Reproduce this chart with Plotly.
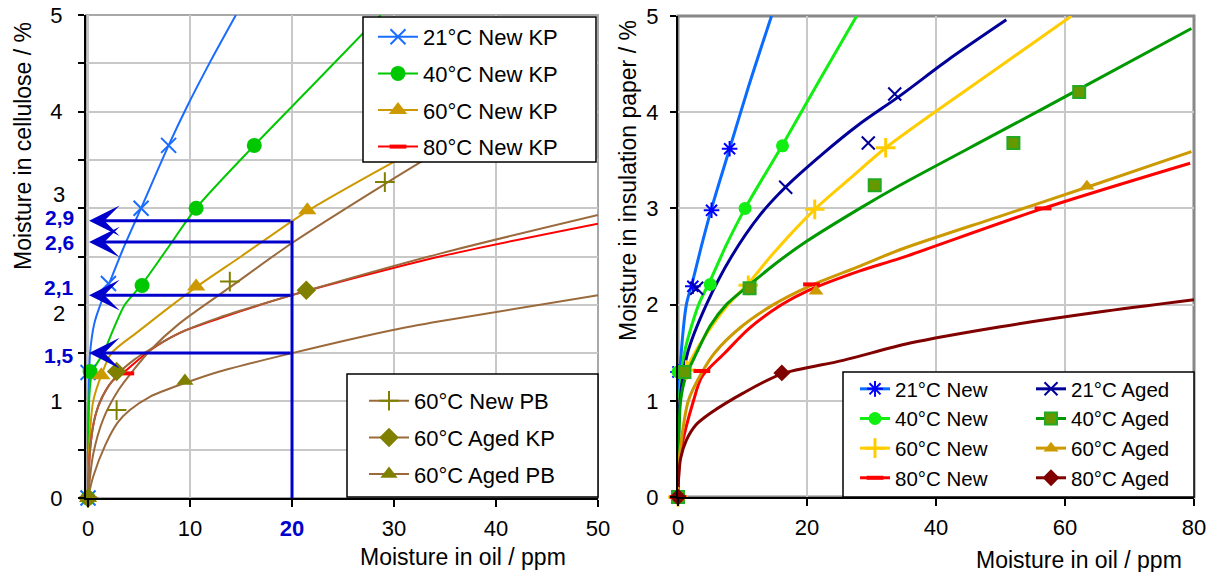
import plotly.graph_objects as go

W, H = 1214, 572
FONT = "Liberation Sans, Arial, sans-serif"

# ================= LEFT PANEL DATA (moisture in oil ppm -> moisture in cellulose %) =================
# fitted curves
L21_CX = [0, 0.01, 0.05, 0.2, 0.6, 1.2, 2.0, 3.4, 5.2, 7.9, 9.7, 12.0, 14.5]
L21_CY = [0, 0.5, 1.0, 1.5, 1.8, 2.0, 2.2, 2.57, 3.0, 3.65, 4.05, 4.52, 5.0]
L40_CX = [0, 0.02, 0.1, 0.4, 1.5, 2.5, 3.6, 5.2, 7.7, 10.6, 16.3, 22.0, 28.7]
L40_CY = [0, 0.5, 1.0, 1.3, 1.5, 1.75, 2.0, 2.2, 2.57, 3.0, 3.65, 4.27, 5.0]
L60KP_CX = [0, 0.1, 0.5, 1.3, 2.3, 5.0, 8.4, 10.7, 15.0, 21.5, 29.8, 38.0]
L60KP_CY = [0, 0.5, 1.0, 1.27, 1.5, 1.73, 2.01, 2.19, 2.5, 2.97, 3.47, 3.95]
L80KP_CX = [0, 0.2, 0.6, 1.2, 2.3, 3.7, 6.1, 9.0, 12.9, 20.0, 34.5, 50.0]
L80KP_CY = [0, 0.5, 0.8, 1.0, 1.2, 1.32, 1.53, 1.71, 1.86, 2.1, 2.5, 2.84]
LNPB_CX = [0, 0.5, 1.5, 3.0, 4.5, 6.1, 9.0, 13.9, 20.0, 29.1, 40.0]
LNPB_CY = [0, 0.45, 0.82, 1.12, 1.33, 1.53, 1.81, 2.18, 2.64, 3.25, 3.95]
LAKP_CX = [0, 0.2, 0.7, 1.4, 2.8, 4.5, 6.1, 9.0, 12.9, 20.0, 34.5, 50.0]
LAKP_CY = [0, 0.5, 0.85, 1.05, 1.27, 1.43, 1.54, 1.71, 1.87, 2.1, 2.53, 2.93]
LAPB_CX = [0, 0.5, 1.7, 2.9, 4.1, 6.1, 9.5, 12.9, 20.0, 29.9, 34.5, 50.0]
LAPB_CY = [0, 0.22, 0.55, 0.78, 0.91, 1.05, 1.19, 1.31, 1.5, 1.74, 1.83, 2.1]
# measured points
L21_MX = [0, 0, 2.0, 5.2, 7.9]
L21_MY = [0, 1.3, 2.22, 3.0, 3.65]
L40_MX = [0, 0.2, 5.3, 10.6, 16.3]
L40_MY = [0, 1.31, 2.2, 3.0, 3.65]
L60KP_MX = [0, 1.3, 10.6, 21.5]
L60KP_MY = [0, 1.27, 2.19, 2.98]
L80KP_MX = [0, 3.7]
L80KP_MY = [0, 1.29]
LNPB_MX = [0, 2.8, 13.9, 29.1]
LNPB_MY = [0, 0.91, 2.24, 3.27]
LAKP_MX = [0, 2.8, 21.4]
LAKP_MY = [0, 1.31, 2.15]
LAPB_MX = [0, 9.5]
LAPB_MY = [0, 1.21]
# read-off example at 20 ppm
READ_X = 20
READ_Y = [2.87, 2.65, 2.1, 1.5]
READ_LABELS = ["2,9", "2,6", "2,1", "1,5"]
READ_LABEL_PY = [217, 243, 287, 355]   # label centres (px) as placed in the original

L_XTICKS = [0, 10, 20, 30, 40, 50]
L_XTEXT = ["0", "10", "<span style='color:#0000cc'><b>20</b></span>", "30", "40", "50"]
L_YTICKS = [0, 0.5, 1, 1.5, 2, 2.5, 3, 3.5, 4, 4.5, 5]
L_YTEXT = ["0", "", "1", "", "", "", "", "", "4", "", "5"]
L_YNUDGED = ["2", "3"]          # labels drawn slightly off their gridline in the original

# ================= RIGHT PANEL DATA =================
R21N_CX = [0, 0.02, 0.1, 0.5, 1.3, 2.3, 3.6, 5.2, 8.0, 11.0, 14.5]
R21N_CY = [0, 0.5, 1.0, 1.5, 2.0, 2.25, 2.6, 3.0, 3.62, 4.28, 5.0]
R40N_CX = [0, 0.05, 0.2, 1.0, 3.2, 5.0, 7.5, 10.4, 16.2, 22.0, 27.7]
R40N_CY = [0, 0.5, 1.0, 1.5, 2.0, 2.25, 2.62, 3.0, 3.66, 4.34, 5.0]
R21A_CX = [0, 0.05, 0.3, 1.5, 4.4, 8.3, 12.7, 16.8, 22.3, 28.0, 34.4, 42.0, 50.9]
R21A_CY = [0, 0.5, 1.0, 1.5, 2.0, 2.5, 2.93, 3.23, 3.56, 3.87, 4.17, 4.55, 4.96]
R40A_CX = [0, 0.1, 0.4, 1.2, 2.9, 5.0, 7.5, 11.0, 15.0, 20.0, 28.2, 34.4, 50.0, 62.2, 79.6]
R40A_CY = [0, 0.5, 1.0, 1.25, 1.5, 1.78, 2.0, 2.2, 2.42, 2.66, 3.0, 3.24, 3.8, 4.24, 4.87]
R60N_CX = [0, 0.05, 0.3, 1.3, 3.5, 7.8, 10.9, 15.0, 21.2, 27.0, 32.2, 40.0, 50.0, 61.0]
R60N_CY = [0, 0.5, 1.0, 1.32, 1.6, 2.0, 2.22, 2.55, 2.99, 3.33, 3.63, 4.01, 4.48, 5.0]
R60A_CX = [0, 0.1, 0.35, 1.6, 3.5, 5.7, 10.0, 14.8, 20.0, 28.2, 34.4, 50.0, 63.4, 79.6]
R60A_CY = [0, 0.3, 0.5, 1.0, 1.27, 1.5, 1.78, 2.0, 2.18, 2.4, 2.57, 2.92, 3.22, 3.59]
R80N_CX = [0, 0.15, 0.5, 2.4, 3.7, 7.3, 11.0, 16.1, 20.0, 28.2, 34.4, 56.6, 79.4]
R80N_CY = [0, 0.3, 0.5, 1.0, 1.25, 1.5, 1.75, 2.0, 2.14, 2.35, 2.48, 3.0, 3.47]
R80A_CX = [0, 0.1, 0.4, 1.3, 2.8, 5.0, 10.1, 16.1, 25.6, 36.0, 50.0, 65.0, 80.0]
R80A_CY = [0, 0.2, 0.4, 0.59, 0.75, 0.87, 1.08, 1.28, 1.42, 1.6, 1.77, 1.92, 2.05]

R21N_MX = [0, 0, 2.3, 5.2, 8.0]
R21N_MY = [0, 1.3, 2.19, 2.98, 3.62]
R21A_MX = [0, 2.9, 16.7, 29.5, 33.6]
R21A_MY = [0, 2.17, 3.22, 3.68, 4.19]
R40N_MX = [0, 0, 5.0, 10.4, 16.2]
R40N_MY = [0, 1.3, 2.21, 3.0, 3.65]
R40A_MX = [0, 1.0, 11.1, 30.5, 52.0, 62.2]
R40A_MY = [0, 1.3, 2.17, 3.24, 3.68, 4.21]
R60N_MX = [0, 1.3, 10.9, 21.2, 32.2]
R60N_MY = [0, 1.32, 2.2, 2.99, 3.63]
R60A_MX = [0, 21.4, 63.4]
R60A_MY = [0, 2.14, 3.23]
R80N_MX = [0, 3.7, 20.7, 56.6]
R80N_MY = [0, 1.31, 2.21, 3.0]
R80A_MX = [0, 16.1]
R80A_MY = [0, 1.29]

R_XTICKS = [0, 20, 40, 60, 80]
R_YTICKS = [0, 1, 2, 3, 4, 5]

# ================= FIGURE =================
fig = go.Figure()
curves, markers, legends = [], [], []


def series(ax, ay, cx, cy, mx, my, lcolor, lw, mk, name, legend):
    curves.append(go.Scatter(x=cx, y=cy, mode="lines", xaxis=ax, yaxis=ay,
                             line=dict(color=lcolor, width=lw, shape="spline", smoothing=0.8),
                             showlegend=False, hoverinfo="skip"))
    markers.append(go.Scatter(x=mx, y=my, mode="markers", xaxis=ax, yaxis=ay, marker=mk,
                              showlegend=False, cliponaxis=False, name=name))
    legends.append(go.Scatter(x=[None], y=[None], mode="lines+markers", xaxis=ax, yaxis=ay,
                              line=dict(color=lcolor, width=lw), marker=mk,
                              name=name, legend=legend, legendgroup=name, showlegend=True))


def open_mk(symbol, size, color, width):
    return dict(symbol=symbol, size=size, color=color, line=dict(color=color, width=width))


BROWN = "#9b6a3c"
OLIVE = "#808000"
# left panel
series("x", "y", L21_CX, L21_CY, L21_MX, L21_MY, "#1a6cff", 2,
       open_mk("x-thin-open", 15, "#1a6cff", 2), "21°C New KP", "legend")
series("x", "y", L40_CX, L40_CY, L40_MX, L40_MY, "#00c800", 2,
       dict(symbol="circle", size=15, color="#00c800"), "40°C New KP", "legend")
series("x", "y", L60KP_CX, L60KP_CY, L60KP_MX, L60KP_MY, "#cc9900", 2,
       dict(symbol="triangle-up", size=16, color="#cc9900"), "60°C New KP", "legend")
series("x", "y", L80KP_CX, L80KP_CY, L80KP_MX, L80KP_MY, "#ff0000", 2,
       open_mk("line-ew-open", 12, "#ff0000", 4), "80°C New KP", "legend")
series("x", "y", LNPB_CX, LNPB_CY, LNPB_MX, LNPB_MY, BROWN, 2,
       open_mk("cross-thin-open", 14, OLIVE, 2), "60°C New PB", "legend2")
series("x", "y", LAKP_CX, LAKP_CY, LAKP_MX, LAKP_MY, BROWN, 2,
       dict(symbol="diamond", size=15, color=OLIVE), "60°C Aged KP", "legend2")
series("x", "y", LAPB_CX, LAPB_CY, LAPB_MX, LAPB_MY, BROWN, 2,
       dict(symbol="triangle-up", size=15, color=OLIVE), "60°C Aged PB", "legend2")

# right panel
series("x2", "y2", R21N_CX, R21N_CY, R21N_MX, R21N_MY, "#0a6cff", 3,
       open_mk("asterisk-open", 13, "#0000ff", 2), "21°C New", "legend3")
series("x2", "y2", R40N_CX, R40N_CY, R40N_MX, R40N_MY, "#11ee11", 3,
       dict(symbol="circle", size=13, color="#11ee11"), "40°C New", "legend3")
series("x2", "y2", R60N_CX, R60N_CY, R60N_MX, R60N_MY, "#ffcc00", 3,
       open_mk("cross-thin-open", 14, "#ffcc00", 3), "60°C New", "legend3")
series("x2", "y2", R80N_CX, R80N_CY, R80N_MX, R80N_MY, "#ff0000", 3,
       open_mk("line-ew-open", 12, "#ff0000", 4), "80°C New", "legend3")
series("x2", "y2", R21A_CX, R21A_CY, R21A_MX, R21A_MY, "#000099", 3,
       open_mk("x-thin-open", 13, "#000099", 2), "21°C Aged", "legend4")
series("x2", "y2", R40A_CX, R40A_CY, R40A_MX, R40A_MY, "#009900", 3,
       dict(symbol="square", size=12, color="#669900", line=dict(color="#22aa22", width=2)), "40°C Aged", "legend4")
series("x2", "y2", R60A_CX, R60A_CY, R60A_MX, R60A_MY, "#cc9900", 3,
       dict(symbol="triangle-up", size=13, color="#cc9900"), "60°C Aged", "legend4")
series("x2", "y2", R80A_CX, R80A_CY, R80A_MX, R80A_MY, "#800000", 3,
       dict(symbol="diamond", size=13, color="#800000"), "80°C Aged", "legend4")

for t in curves + markers + legends:
    fig.add_trace(t)

BLUE = "#0000cc"
TICKF = dict(family=FONT, size=22, color="black")
# read-off arrows
for yv in READ_Y:
    fig.add_annotation(x=0.1, y=yv, ax=READ_X, ay=yv, xref="x", yref="y", axref="x", ayref="y",
                       text="", showarrow=True, arrowhead=3, arrowsize=1.7, arrowwidth=3,
                       arrowcolor=BLUE, standoff=0)
for py, lab in zip(READ_LABEL_PY, READ_LABELS):
    fig.add_annotation(x=76 / W, y=1 - py / H, xref="paper", yref="paper", text="<b>%s</b>" % lab,
                       showarrow=False, xanchor="right", yanchor="middle",
                       font=dict(family=FONT, size=21, color=BLUE))
fig.add_shape(type="line", x0=READ_X, x1=READ_X, y0=0, y1=READ_Y[0], xref="x", yref="y",
              line=dict(color=BLUE, width=3), layer="above")
# y labels "2" and "3" sit a little off their gridlines in the original
for lab, py in zip(L_YNUDGED, [313, 195]):
    fig.add_annotation(x=67 / W, y=1 - py / H, xref="paper", yref="paper", text=lab,
                       showarrow=False, xanchor="right", yanchor="middle", font=TICKF)

# plot frames (grey top/right)
fig.add_shape(type="rect", xref="x domain", yref="y domain", x0=0, x1=1, y0=0, y1=1,
              line=dict(color="#a8a8a8", width=2), layer="below")
fig.add_shape(type="rect", xref="x2 domain", yref="y2 domain", x0=0, x1=1, y0=0, y1=1,
              line=dict(color="#888888", width=3), layer="below")


# legend boxes
def box(x0, y0, x1, y1):
    fig.add_shape(type="rect", xref="paper", yref="paper", x0=x0 / W, x1=x1 / W,
                  y0=1 - y1 / H, y1=1 - y0 / H, fillcolor="white",
                  line=dict(color="black", width=1.5), layer="above")


box(363, 17, 596, 162)
box(347, 374, 598, 497)
box(843, 372, 1194, 497)

# axis titles
TF = dict(family=FONT, size=23, color="black")
fig.add_annotation(x=463 / W, y=1 - 557 / H, xref="paper", yref="paper", text="Moisture in oil / ppm",
                   showarrow=False, font=TF, xanchor="center", yanchor="middle")
fig.add_annotation(x=1079 / W, y=1 - 560 / H, xref="paper", yref="paper", text="Moisture in oil / ppm",
                   showarrow=False, font=TF, xanchor="center", yanchor="middle")
fig.add_annotation(x=23 / W, y=1 - 146 / H, xref="paper", yref="paper", text="Moisture in cellulose / %",
                   showarrow=False, font=TF, textangle=-90, xanchor="center", yanchor="middle")
fig.add_annotation(x=628 / W, y=1 - 181 / H, xref="paper", yref="paper",
                   text="Moisture in insulation paper / %",
                   showarrow=False, font=TF, textangle=-90, xanchor="center", yanchor="middle")

axis_common = dict(showline=True, linecolor="black", linewidth=2, ticks="outside",
                   tickwidth=1.5, tickcolor="black", showgrid=True, gridcolor="#c8c8c8", gridwidth=1.5,
                   zeroline=False, tickfont=TICKF, tickmode="array", fixedrange=True, automargin=False)

legfont_l = dict(family=FONT, size=22, color="black")
legfont_r = dict(family=FONT, size=20.5, color="black")

fig.update_layout(
    width=W, height=H, margin=dict(l=0, r=0, t=0, b=0, autoexpand=False),
    paper_bgcolor="white", plot_bgcolor="white",
    xaxis=dict(domain=[86 / W, 598 / W], range=[-0.2, 50], tickvals=L_XTICKS, ticktext=L_XTEXT,
               anchor="y", ticklen=7, ticklabelstandoff=3, **axis_common),
    yaxis=dict(domain=[1 - 498 / H, 1 - 15 / H], range=[0, 5], tickvals=L_YTICKS, ticktext=L_YTEXT,
               anchor="x", ticklen=6, ticklabelstandoff=11, **axis_common),
    xaxis2=dict(domain=[678 / W, 1194 / W], range=[0, 80], tickvals=R_XTICKS,
                anchor="y2", ticklen=7, ticklabelstandoff=3, **axis_common),
    yaxis2=dict(domain=[1 - 497 / H, 1 - 16 / H], range=[0, 5], tickvals=R_YTICKS,
                anchor="x2", ticklen=6, ticklabelstandoff=7, **axis_common),
    legend=dict(x=373 / W, y=1 - 16 / H, xanchor="left", yanchor="top", bgcolor="rgba(0,0,0,0)",
                borderwidth=0, font=legfont_l, traceorder="grouped", tracegroupgap=5, itemwidth=40),
    legend2=dict(x=364 / W, y=1 - 380 / H, xanchor="left", yanchor="top", bgcolor="rgba(0,0,0,0)",
                 borderwidth=0, font=legfont_l, traceorder="grouped", tracegroupgap=5, itemwidth=40),
    legend3=dict(x=855 / W, y=1 - 369 / H, xanchor="left", yanchor="top", bgcolor="rgba(0,0,0,0)",
                 borderwidth=0, font=legfont_r, traceorder="normal", itemwidth=30),
    legend4=dict(x=1031 / W, y=1 - 369 / H, xanchor="left", yanchor="top", bgcolor="rgba(0,0,0,0)",
                 borderwidth=0, font=legfont_r, traceorder="normal", itemwidth=30),
    showlegend=True,
)

fig.write_html("out.html", config={"displayModeBar": False},
               post_script="document.body.style.margin='0px';")
